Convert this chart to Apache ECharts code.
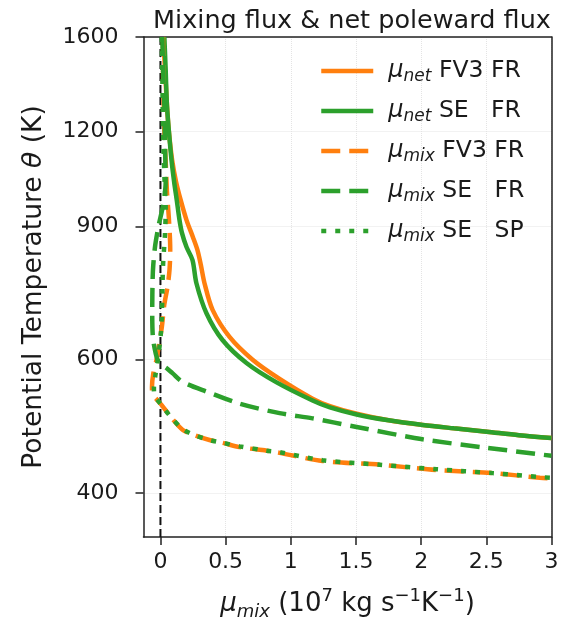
<!DOCTYPE html>
<html>
<head>
<meta charset="utf-8">
<script src="https://cdn.jsdelivr.net/npm/echarts@6/dist/echarts.min.js"></script>
<style>
  html, body { margin: 0; padding: 0; background: #fff; }
  #chart { width: 570px; height: 619px; }
</style>
</head>
<body>
<div id="chart"></div>
<script>
// Tick values on both axes
const thetaTicks = [400, 600, 900, 1200, 1600];
const muTicks = [0, 0.5, 1, 1.5, 2, 2.5, 3];

// Profiles: [mu (1e7 kg s^-1 K^-1), potential temperature theta (K)]
const netFV3FR = [
  [0.02, 1600], [0.035, 1450], [0.05, 1300], [0.065, 1200], [0.09, 1100],
  [0.12, 1030], [0.155, 975], [0.20, 917], [0.25, 870], [0.284, 837],
  [0.31, 800], [0.338, 757], [0.40, 698], [0.53, 643], [0.707, 600],
  [0.914, 566], [1.167, 533], [1.3, 521], [1.505, 509], [1.75, 499],
  [2.012, 492], [2.25, 487], [2.504, 482], [2.75, 477], [3.0, 473]
];
const netSEFR = [
  [0.03, 1600], [0.04, 1450], [0.05, 1300], [0.065, 1200], [0.085, 1100],
  [0.105, 1030], [0.125, 975], [0.145, 920], [0.165, 882], [0.20, 845],
  [0.246, 812], [0.276, 757], [0.353, 691], [0.476, 637], [0.66, 594],
  [0.891, 560], [1.167, 530], [1.3, 519], [1.505, 508], [1.75, 499],
  [2.012, 492], [2.25, 487], [2.504, 482], [2.75, 477], [3.0, 473]
];
const mixFV3FR = [
  [0.02, 1600], [0.02, 1450], [0.025, 1300], [0.03, 1200], [0.04, 1100],
  [0.05, 1000], [0.065, 920], [0.075, 840], [0.07, 790], [0.055, 750],
  [0.03, 710], [0.01, 661], [-0.01, 630], [-0.03, 600], [-0.055, 575],
  [-0.065, 552], [-0.06, 540], [-0.03, 532], [0.008, 523], [0.084, 503],
  [0.169, 485], [0.261, 477], [0.376, 470], [0.476, 466], [0.607, 460],
  [0.814, 455], [0.914, 452], [1.244, 441], [1.682, 436], [2.12, 429],
  [2.55, 425], [2.911, 419], [3.0, 418]
];
const mixSEFR = [
  [0.015, 1600], [0.02, 1450], [0.03, 1300], [0.035, 1150], [0.04, 1030],
  [0.02, 960], [-0.015, 900], [-0.04, 850], [-0.055, 800], [-0.06, 766],
  [-0.063, 698], [-0.058, 643], [-0.035, 610], [-0.01, 594], [0.046, 585],
  [0.092, 576], [0.169, 561], [0.36, 544], [0.607, 525], [0.914, 510],
  [1.167, 502], [1.505, 489], [2.012, 471], [2.504, 459], [3.0, 448]
];
const mixSESP = [
  [0.01, 1600], [0.015, 1400], [0.02, 1200], [0.03, 1050], [0.04, 950],
  [0.035, 880], [0.02, 800], [0.015, 740], [0.01, 680], [0.0, 640],
  [-0.02, 600], [-0.04, 570], [-0.05, 550], [-0.045, 538], [-0.02, 530],
  [0.01, 522], [0.08, 504], [0.169, 486], [0.261, 477], [0.376, 470],
  [0.476, 466], [0.607, 461], [0.814, 455], [0.914, 453], [1.244, 442],
  [1.682, 436], [2.12, 430], [2.55, 425], [2.911, 420], [3.0, 419]
];
// Reference line at zero flux
const zeroLine = [[0, 350], [0, 1600]];

const ORANGE = '#ff7f0e';
const GREEN = '#2ca02c';
const FONT = 'DejaVu Sans';
const INK = '#1a1a1a';
const SPINE = '#222222';

const legendText = {
  'netFV3': '{mu|μ}{sub|net}{t| FV3 FR}',
  'netSE': '{mu|μ}{sub|net}{t| SE   FR}',
  'mixFV3': '{mu|μ}{sub|mix}{t| FV3 FR}',
  'mixSE': '{mu|μ}{sub|mix}{t| SE   FR}',
  'mixSESP': '{mu|μ}{sub|mix}{t| SE   SP}'
};

function profile(name, data, color, type, width) {
  return {
    name: name,
    type: 'line',
    data: data,
    showSymbol: false,
    symbol: 'none',
    smooth: 0.3,
    lineStyle: { color: color, width: width, type: type, cap: 'butt' },
    itemStyle: { color: color },
    emphasis: { disabled: true },
    animation: false
  };
}

const chart = echarts.init(document.getElementById('chart'), null, { renderer: 'canvas' });

chart.setOption({
  animation: false,
  backgroundColor: '#ffffff',
  title: {
    text: 'Mixing flux & net poleward flux',
    left: 347,
    textAlign: 'center',
    top: 3,
    textStyle: { fontFamily: FONT, fontSize: 25.5, fontWeight: 'normal', color: INK }
  },
  grid: {
    left: 143.5, right: 18.5, top: 37, bottom: 82,
    containLabel: false,
    outerBoundsMode: 'none'
  },
  legend: {
    orient: 'vertical',
    left: 314,
    top: 54,
    itemWidth: 52,
    itemHeight: 14,
    itemGap: 14,
    data: ['netFV3', 'netSE', 'mixFV3', 'mixSE', 'mixSESP'],
    formatter: function (n) { return legendText[n]; },
    itemStyle: { opacity: 0 },
    lineStyle: { width: 4.5 },
    textStyle: {
      fontFamily: FONT, color: INK,
      rich: {
        mu: { fontFamily: FONT, fontStyle: 'italic', fontSize: 24, lineHeight: 28, padding: [0, 0, 0, 10], color: INK },
        sub: { fontFamily: FONT, fontStyle: 'italic', fontSize: 17, lineHeight: 17, verticalAlign: 'bottom', color: INK },
        t: { fontFamily: FONT, fontSize: 23.5, lineHeight: 28, color: INK }
      }
    },
    selectedMode: false
  },
  xAxis: [{
    type: 'value',
    min: -0.13,
    max: 3,
    name: '{mu|μ}{sub|mix}{t| (10}{sup|7}{t| kg s}{sup|−1}{t|K}{sup|−1}{t|)}',
    nameLocation: 'middle',
    nameGap: 50,
    nameTextStyle: {
      fontFamily: FONT, color: INK,
      rich: {
        mu: { fontFamily: FONT, fontStyle: 'italic', fontSize: 26, lineHeight: 34, color: INK },
        sub: { fontFamily: FONT, fontStyle: 'italic', fontSize: 18, lineHeight: 18, verticalAlign: 'bottom', color: INK },
        sup: { fontFamily: FONT, fontSize: 18, lineHeight: 18, verticalAlign: 'top', color: INK },
        t: { fontFamily: FONT, fontSize: 26, lineHeight: 34, color: INK }
      }
    },
    axisLine: { show: true, onZero: false, lineStyle: { color: SPINE, width: 1.5 } },
    axisTick: { show: true, inside: false, length: 8, customValues: muTicks, lineStyle: { color: SPINE, width: 1.5 } },
    axisLabel: {
      customValues: muTicks, margin: 14,
      fontFamily: FONT, fontSize: 22, color: INK,
      formatter: function (v) { return String(v); }
    },
    splitLine: { show: true, lineStyle: { color: '#e4e4e4', type: 'dotted', width: 1 } }
  }, {
    type: 'value',
    position: 'top',
    min: -0.13,
    max: 3,
    axisLine: { show: true, onZero: false, lineStyle: { color: SPINE, width: 1.5 } },
    axisTick: { show: false },
    axisLabel: { show: false },
    splitLine: { show: false }
  }],
  yAxis: [{
    type: 'log',
    logBase: 10,
    min: 350,
    max: 1600,
    name: '{t|Potential Temperature }{it|θ}{t| (K)}',
    nameLocation: 'middle',
    nameGap: 96,
    nameTextStyle: {
      fontFamily: FONT, color: INK,
      rich: {
        t: { fontFamily: FONT, fontSize: 26.5, color: INK },
        it: { fontFamily: FONT, fontStyle: 'italic', fontSize: 26.5, color: INK }
      }
    },
    axisLine: { show: true, onZero: false, lineStyle: { color: SPINE, width: 1.5 } },
    axisTick: { show: true, inside: false, length: 8, customValues: thetaTicks, lineStyle: { color: SPINE, width: 1.5 } },
    axisLabel: {
      customValues: thetaTicks, margin: 25,
      fontFamily: FONT, fontSize: 22, color: INK,
      formatter: function (v) { return String(Math.round(v)); }
    },
    splitLine: { show: true, lineStyle: { color: '#e4e4e4', type: 'dotted', width: 1 } },
    minorTick: { show: false },
    minorSplitLine: { show: false }
  }, {
    type: 'log',
    position: 'right',
    min: 350,
    max: 1600,
    axisLine: { show: true, onZero: false, lineStyle: { color: SPINE, width: 1.5 } },
    axisTick: { show: false },
    axisLabel: { show: false },
    splitLine: { show: false }
  }],
  series: [
    {
      name: 'zero',
      type: 'line',
      data: zeroLine,
      showSymbol: false,
      symbol: 'none',
      lineStyle: { color: '#111', width: 2, type: [8, 4] },
      silent: true,
      emphasis: { disabled: true },
      z: 1
    },
    profile('netFV3', netFV3FR, ORANGE, 'solid', 4.5),
    profile('netSE', netSEFR, GREEN, 'solid', 4.5),
    profile('mixFV3', mixFV3FR, ORANGE, [19, 9], 4.5),
    profile('mixSE', mixSEFR, GREEN, [19, 9], 4.5),
    profile('mixSESP', mixSESP, GREEN, [5, 9], 4.5)
  ]
});
</script>
</body>
</html>
